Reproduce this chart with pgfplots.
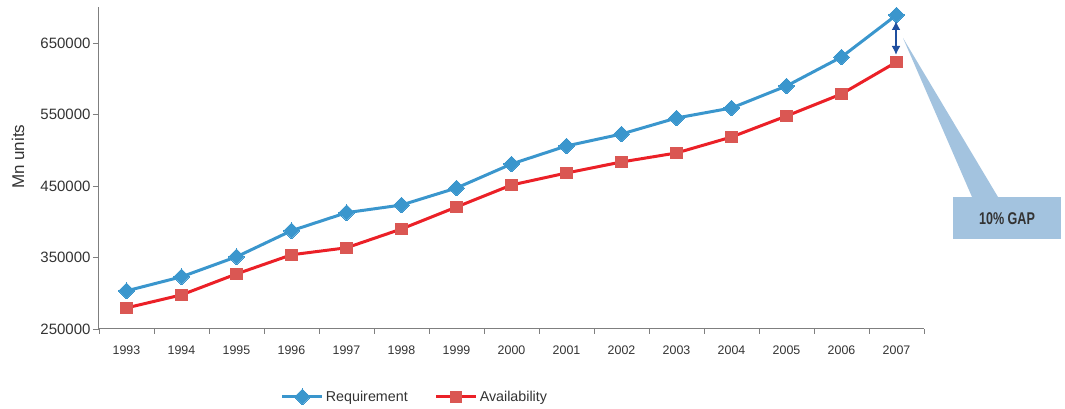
\documentclass[border=0pt]{standalone}
\usepackage{pgfplots}
\pgfplotsset{compat=1.18}
\usepackage{fontspec}
\setmainfont{Liberation Sans}
\usetikzlibrary{arrows.meta}
\definecolor{reqblue}{HTML}{3A96CD}
\definecolor{avred}{HTML}{EB2027}
\definecolor{avmark}{HTML}{DA5753}
\definecolor{axgray}{HTML}{7F7F7F}
\definecolor{txt}{HTML}{333333}
\definecolor{callout}{HTML}{A3C3DF}
\definecolor{arrowblue}{HTML}{1F4F9F}
\begin{document}
\begin{tikzpicture}[x=1pt,y=1pt]
\useasboundingbox (-99,-80) rectangle (966,329);
\begin{axis}[
  at={(0,0)}, anchor=south west,
  scale only axis, width=825pt, height=321.75pt,
  xmin=-0.5, xmax=14.5, ymin=250000, ymax=700000,
  axis lines=left, axis line style={draw=axgray, line width=1pt, -},
  xtick={0,...,14},
  xticklabels={1993,1994,1995,1996,1997,1998,1999,2000,2001,2002,2003,2004,2005,2006,2007},
  minor xtick={-0.5,0.5,...,14.5},
  major x tick style={draw=none},
  minor x tick style={draw=axgray, line width=0.8pt},
  minor tick length=5pt,
  ytick={250000,350000,450000,550000,650000},
  y tick style={draw=axgray, line width=0.8pt},
  major tick length=6pt,
  tick align=outside,
  scaled y ticks=false,
  /pgf/number format/fixed,
  /pgf/number format/1000 sep={},
  /pgf/number format/assume math mode=true,
  y tick label style={font=\fontsize{15}{17}\selectfont, text=txt, xshift=1pt},
  x tick label style={font=\fontsize{12.4}{14}\selectfont, text=txt, yshift=-7pt},
  ylabel={Mn units},
  every axis y label/.style={at={(axis description cs:-0.098,0.535)}, rotate=90, anchor=center, font=\fontsize{17}{19}\selectfont, text=txt},
  clip=false,
  legend columns=2,
  legend style={at={(axis description cs:0.383,-0.211)}, anchor=center, draw=none, fill=none,
    font=\fontsize{14.3}{16}\selectfont, text=txt,
    /tikz/every even column/.append style={column sep=25pt}},
  legend image code/.code={\draw[#1,mark repeat=2,mark phase=2] plot coordinates {(0pt,0pt) (20pt,0pt) (40pt,0pt)};},
]
\addplot[reqblue, line width=3pt, mark=square*, mark size=5.6pt, mark options={rotate=45, fill=reqblue, draw=reqblue, line width=0pt}]
coordinates {(0,303300) (1,323000) (2,351000) (3,387500) (4,412700) (5,423400) (6,447200) (7,480800) (8,506000) (9,522700) (10,545100) (11,559100) (12,589900) (13,630400) (14,689200)};
\addlegendentry{Requirement}
\addplot[avred, line width=3pt, mark=square*, mark size=5.6pt, mark options={fill=avmark, draw=avmark, line width=0pt}]
coordinates {(0,279500) (1,297700) (2,327000) (3,353800) (4,363600) (5,389900) (6,420600) (7,451400) (8,468200) (9,483600) (10,496200) (11,518500) (12,547900) (13,578700) (14,623400)};
\addlegendentry{Availability}
\end{axis}
\draw[arrowblue, line width=2.8pt, {Latex[length=9pt,width=9pt]}-{Latex[length=9pt,width=9pt]}] (797,308) -- (797,274);
\fill[callout] (804,291) -- (899,132) -- (873,132) -- cycle;
\fill[callout] (854,132) rectangle (962,90);
\node[text=txt, font=\bfseries\fontsize{17}{19}\selectfont] at (908,110) {\scalebox{0.74}[1]{10\% GAP}};
\end{tikzpicture}
\end{document}
